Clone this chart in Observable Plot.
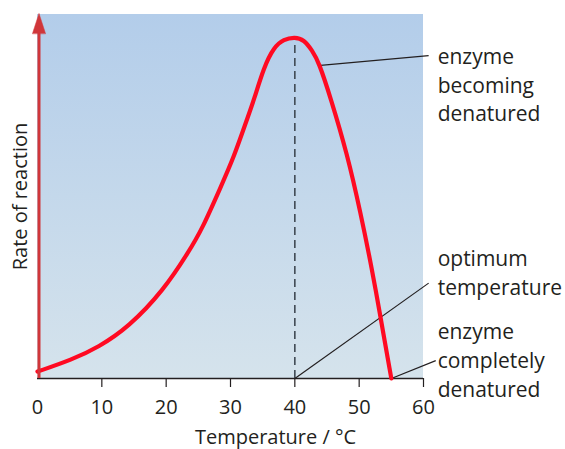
<!DOCTYPE html>
<html><head><meta charset="utf-8">
<script src="https://cdn.jsdelivr.net/npm/d3@7"></script>
<script src="https://cdn.jsdelivr.net/npm/@observablehq/plot@0.6"></script>
<style>body{margin:0;background:#fff}</style>
</head><body><div id="chart"></div>
<script>
// Curve: rate of reaction vs temperature
const temperature = [0, 5.33, 9.48, 14.15, 19.59, 23.47, 25.6, 28.45, 30.52, 32.6, 33.62, 35.18, 36.73, 38.29, 40, 41.4, 42.7, 43.73, 45.55, 48.14, 50.21, 52.03, 53.32, 55];
const rate        = [1.9, 5.14, 8.6, 14.1, 24.2, 34.7, 41.1, 52.5, 60.8, 71.4, 76.4, 85.5, 91.0, 93.2, 93.8, 93.1, 90.1, 86.9, 77.2, 61.7, 45.6, 29.7, 16.8, 0];
const xTicks = [0, 10, 20, 30, 40, 50, 60];
const optimumTemp = 40;
const peakRate = 93.5;
const xTitle = "Temperature / °C";
const yTitle = "Rate of reaction";
// Annotations
const annotationText = ["enzyme\nbecoming\ndenatured", "optimum\ntemperature", "enzyme\ncompletely\ndenatured"];
const annotationX = [62.2, 62.2, 62.2];
const annotationY = [81.0, 29.4, 5.4];
const leaderFromX = [44.0, 40, 55];
const leaderFromY = [86.0, 0, 0];
const leaderToX = [60.8, 60.8, 61.9];
const leaderToY = [88.7, 26.2, 4.9];

const curve = temperature.map((t, i) => ({t, r: rate[i]}));
const labels = annotationText.map((s, i) => ({s, x: annotationX[i], y: annotationY[i]}));
const leaders = leaderFromX.map((x, i) => ({x1: x, y1: leaderFromY[i], x2: leaderToX[i], y2: leaderToY[i]}));

const ink = "#231f20";
const axisRed = "#d0363a";

const chart = Plot.plot({
  width: 565, height: 449,
  marginLeft: 37, marginRight: 142, marginTop: 14, marginBottom: 71,
  style: {fontFamily: "'Open Sans', sans-serif", fontSize: "20px", color: ink, background: "white"},
  x: {domain: [0, 60], label: null},
  y: {domain: [0, 100], axis: null},
  marks: [
    Plot.rect([0], {x1: 0, x2: 60, y1: 0, y2: 100, fill: "url(#bgGrad)"}),
    Plot.ruleY([0], {x1: 0, x2: 60, stroke: ink, strokeWidth: 1.5}),
    Plot.axisX(xTicks.filter(d => d > 0), {tickSize: 9, tickFormat: () => "", color: ink, strokeWidth: 1.2}),
    Plot.axisX(xTicks, {tickSize: 0, tickPadding: 21, color: ink, fontSize: 20}),
    Plot.text([xTitle], {x: 37, frameAnchor: "bottom", dy: 59, lineAnchor: "middle", fill: ink, fontSize: 20}),
    Plot.text([yTitle], {frameAnchor: "left", dx: -17, rotate: -90, textAnchor: "middle", lineAnchor: "middle", fill: ink, fontSize: 20}),
    Plot.ruleX([optimumTemp], {y1: 0, y2: peakRate, stroke: "#404a54", strokeWidth: 1.6, strokeDasharray: "8,5"}),
    Plot.link(leaders, {x1: "x1", y1: "y1", x2: "x2", y2: "y2", stroke: ink, strokeWidth: 1.2}),
    Plot.line(curve, {x: "t", y: "r", curve: "basis", stroke: "#ff0a22", strokeWidth: 4.2}),
    Plot.ruleX([0], {y1: 0, y2: 96, stroke: axisRed, strokeWidth: 3, dx: 1.5}),
    Plot.vector([0], {x: 0, y: 94.8, length: 20, anchor: "start", dx: 1.5, r: 6.5,
      shape: {draw(ctx, l, r) { ctx.moveTo(-r, 0); ctx.lineTo(0, -l); ctx.lineTo(r, 0); ctx.closePath(); }},
      fill: axisRed, stroke: axisRed, strokeWidth: 0.5}),
    Plot.text(labels, {x: "x", y: "y", text: "s", textAnchor: "start", lineAnchor: "middle", lineHeight: 1.36, fill: ink, fontSize: 21})
  ]
});

const defs = d3.select(chart).insert("defs", ":first-child");
const g = defs.append("linearGradient").attr("id", "bgGrad").attr("x1", 0).attr("y1", 0).attr("x2", 0).attr("y2", 1);
g.append("stop").attr("offset", "0%").attr("stop-color", "#b3cdea");
g.append("stop").attr("offset", "100%").attr("stop-color", "#d5e3ec");
document.getElementById("chart").appendChild(chart);
</script>
</body></html>
